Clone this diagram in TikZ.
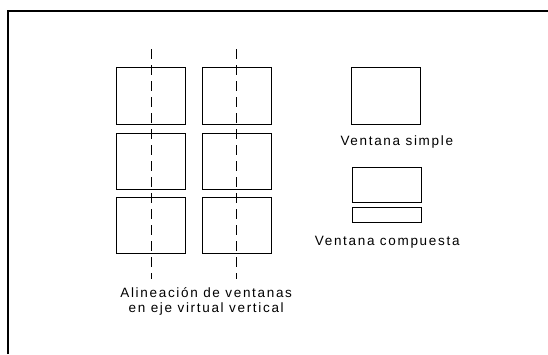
\documentclass[tikz,border=0pt]{standalone}
\usepackage{fontspec}
\setmainfont{Liberation Sans}[LetterSpace=12.5]
\begin{document}
\begin{tikzpicture}[x=1pt,y=-1pt,
  win/.style={draw=black,line width=1pt,fill=none,inner sep=0pt,minimum width=69pt},
  axis/.style={draw=black,line width=1pt,dash pattern=on 10pt off 6pt},
  frame/.style={draw=black,line width=2pt},
  lbl/.style={anchor=base,inner sep=0pt,font=\fontsize{13.5}{15}\selectfont}]
\useasboundingbox (0,0) rectangle (548,354);
% frame (top and left edges)
\coordinate (fa) at (8,354);
\coordinate (fb) at (8,10.5);
\coordinate (fc) at (548,10.5);
\draw[frame] (fa) -- (fb) -- (fc);
% grid of windows
\node[win,minimum height=56.5pt] (w11) at (151.2,96) {};
\node[win,minimum height=56.5pt] (w12) at (236.8,96) {};
\node[win,minimum height=56.5pt] (w21) at (151.2,161.7) {};
\node[win,minimum height=56.5pt] (w22) at (236.8,161.7) {};
\node[win,minimum height=56pt] (w31) at (151.2,225.3) {};
\node[win,minimum height=56pt] (w32) at (236.8,225.3) {};
% vertical axes
\coordinate (a1t) at (151,49);
\coordinate (a1b) at (151,278.5);
\coordinate (a2t) at (236.6,49);
\coordinate (a2b) at (236.6,278.5);
\draw[axis] (a1t) -- (a1b);
\draw[axis] (a2t) -- (a2b);
\node[lbl] (t1) at (206.2,297.7) {Alineación de ventanas};
\node[lbl] (t2) at (206.2,312.5) {en eje virtual vertical};
% simple window
\node[win,minimum height=56.3pt] (ws) at (386.2,95.9) {};
\node[lbl] (ts) at (396.8,145.7) {Ventana simple};
% compound window
\node[win,minimum height=35pt] (wc1) at (387,184.8) {};
\node[win,minimum height=15pt] (wc2) at (387,214.8) {};
\node[lbl] (tc) at (387.2,245) {Ventana compuesta};
\end{tikzpicture}
\end{document}
